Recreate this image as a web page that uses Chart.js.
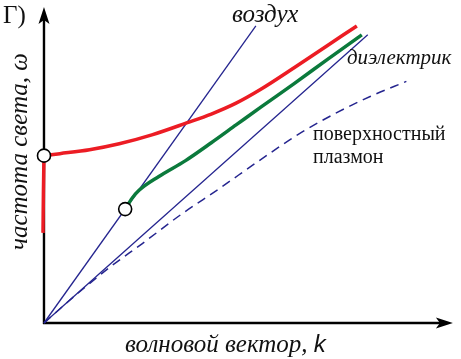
<!DOCTYPE html>
<html>
<head>
<meta charset="utf-8">
<script src="https://cdn.jsdelivr.net/npm/chart.js@4/dist/chart.umd.min.js"></script>
<style>
  html, body { margin: 0; padding: 0; background: #fff; }
  #wrap { width: 461px; height: 359px; position: relative; }
</style>
</head>
<body>
<div id="wrap"><canvas id="c" width="461" height="359"></canvas></div>
<script>
// ---- data (k = wave vector, w = light frequency, arbitrary units) ----
const airK  = [0, 214];
const airW  = [0, 300];
const dielK = [0, 327];
const dielW = [0, 291];
const spK   = [0, 33, 66, 99, 139, 176, 216, 256, 293, 330, 366];
const spW   = [0, 29, 56, 80, 110, 135, 163, 190, 211, 229, 244];
const redVertK = [-1, -0.6, 0];
const redVertW = [91, 130, 169];
const redK  = [0, 16, 46, 76, 109, 144, 169, 194, 219, 253, 286, 316];
const redW  = [169, 171, 175, 181, 190, 202, 211, 222, 236, 258, 280, 300];
const greenK = [82, 89, 96, 116, 143, 169, 194, 219, 253, 286, 321];
const greenW = [115, 126, 134, 148, 164, 182, 200, 218, 242, 266, 291];
const markK = [0, 82];
const markW = [169, 115];
const xTitle = 'волновой вектор, ';
const xTitleVar = 'k';
const yTitle = 'частота света, ω';
const panelLabel = 'Г)';
const labelAir = 'воздух';
const labelDiel = 'диэлектрик';
const labelSP = ['поверхностный', 'плазмон'];

const pts = (xs, ys) => xs.map((x, i) => ({x: x, y: ys[i]}));

const BLUE = '#25258f', RED = '#ec1c24', GREEN = '#0b7a3c';
const SERIF = '"Liberation Serif", "Times New Roman", serif';

const decor = {
  id: 'decor',
  beforeDatasetsDraw(chart) {
    const ctx = chart.ctx;
    const a = chart.chartArea;
    const x0 = chart.scales.x.getPixelForValue(0);
    const y0 = chart.scales.y.getPixelForValue(0);
    ctx.save();
    ctx.strokeStyle = '#000';
    ctx.fillStyle = '#000';
    ctx.lineWidth = 2.4;
    ctx.beginPath();
    ctx.moveTo(x0, y0 + 1);
    ctx.lineTo(x0, a.top + 10);
    ctx.moveTo(x0 - 1, y0);
    ctx.lineTo(a.right - 10, y0);
    ctx.stroke();
    // arrow heads
    const tipY = a.top - 1;
    ctx.beginPath();
    ctx.moveTo(x0, tipY);
    ctx.lineTo(x0 + 5.5, tipY + 17);
    ctx.lineTo(x0, tipY + 13);
    ctx.lineTo(x0 - 5.5, tipY + 17);
    ctx.closePath();
    ctx.fill();
    const tipX = a.right;
    ctx.beginPath();
    ctx.moveTo(tipX, y0);
    ctx.lineTo(tipX - 17, y0 - 5.5);
    ctx.lineTo(tipX - 13, y0);
    ctx.lineTo(tipX - 17, y0 + 5.5);
    ctx.closePath();
    ctx.fill();
    ctx.restore();
  },
  afterDraw(chart) {
    const ctx = chart.ctx;
    ctx.save();
    ctx.fillStyle = '#111';
    ctx.textBaseline = 'alphabetic';
    ctx.textAlign = 'left';
    ctx.font = '25px ' + SERIF;
    ctx.fillText(panelLabel, 3, 23);
    ctx.font = 'italic 25px ' + SERIF;
    ctx.fillText(labelAir, 232, 22);
    ctx.font = 'italic 21px ' + SERIF;
    ctx.fillText(labelDiel, 347, 64);
    ctx.font = '20px ' + SERIF;
    ctx.fillText(labelSP[0], 313, 140);
    ctx.fillText(labelSP[1], 313, 163);
    // x title
    ctx.font = 'italic 25px ' + SERIF;
    ctx.fillText(xTitle, 125, 352);
    const w = ctx.measureText(xTitle).width;
    ctx.font = 'italic 24px "Liberation Sans", sans-serif';
    ctx.fillText(xTitleVar, 125 + w, 352);
    // y title
    ctx.translate(27, 250);
    ctx.rotate(-Math.PI / 2);
    ctx.font = 'italic 25px ' + SERIF;
    ctx.fillText(yTitle, 0, 0);
    ctx.restore();
  }
};

new Chart(document.getElementById('c'), {
  type: 'scatter',
  data: {
    datasets: [
      { data: pts(markK, markW), showLine: false, pointRadius: 6.5, pointBackgroundColor: '#fff',
        pointBorderColor: '#000', pointBorderWidth: 1.6, order: 0, clip: false },
      { data: pts(redVertK, redVertW), showLine: true, borderColor: RED, borderWidth: 3.5,
        pointRadius: 0, tension: 0.3, order: 1, clip: false },
      { data: pts(redK, redW), showLine: true, borderColor: RED, borderWidth: 3.5,
        pointRadius: 0, cubicInterpolationMode: 'monotone', order: 1, clip: false },
      { data: pts(greenK, greenW), showLine: true, borderColor: GREEN, borderWidth: 3.5,
        pointRadius: 0, cubicInterpolationMode: 'monotone', order: 2, clip: false },
      { data: pts(airK, airW), showLine: true, borderColor: BLUE, borderWidth: 1.3,
        pointRadius: 0, order: 3, clip: false },
      { data: pts(dielK, dielW), showLine: true, borderColor: BLUE, borderWidth: 1.3,
        pointRadius: 0, order: 3, clip: false },
      { data: pts(spK, spW), showLine: true, borderColor: BLUE, borderWidth: 1.5,
        borderDash: [9, 6], pointRadius: 0, cubicInterpolationMode: 'monotone', order: 3, clip: false }
    ]
  },
  options: {
    responsive: false,
    animation: false,
    devicePixelRatio: 1,
    layout: { padding: { left: 42.5, right: 4, top: 5, bottom: 36 } },
    plugins: { legend: { display: false }, tooltip: { enabled: false }, title: { display: false } },
    scales: {
      x: { type: 'linear', min: -1.5, max: 413, display: false },
      y: { type: 'linear', min: 0, max: 318, display: false }
    }
  },
  plugins: [decor]
});
</script>
</body>
</html>
